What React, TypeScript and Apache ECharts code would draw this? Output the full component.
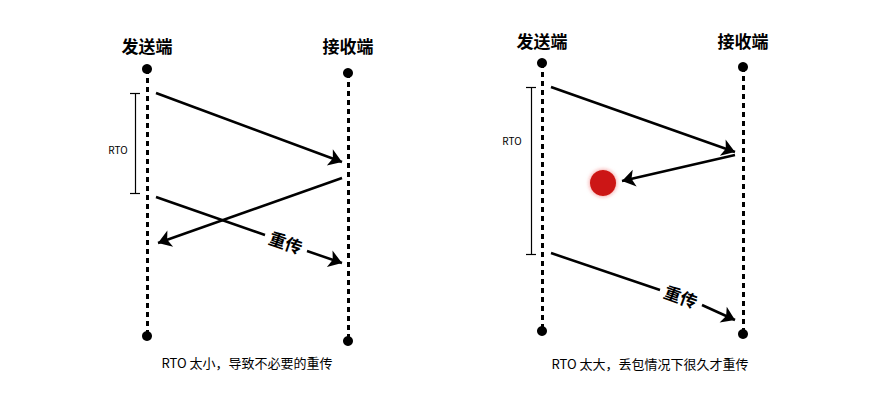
import { useEffect, useRef } from 'react';
import * as echarts from 'echarts';

// coordinates in picture pixels (x right, y down)
const lifelines = [
  { x: 147, top: 69, bottom: 336 },
  { x: 348, top: 73, bottom: 341 },
  { x: 542, top: 63, bottom: 331 },
  { x: 743, top: 67, bottom: 334 },
];

const arrows: [number, number, number, number][] = [
  [156, 93, 342, 162],
  [342, 178, 158, 243],
  [307, 251, 342, 263],
  [551, 87, 735, 152],
  [735, 155, 622, 181],
  [702, 305, 735, 320],
];

const plainSegments: [number, number, number, number][] = [
  [156, 197, 265, 235],
  [551, 253, 660, 290],
];

const brackets = [
  { x: 135, y1: 93, y2: 193 },
  { x: 531, y1: 87, y2: 254 },
];

const titles = [
  { x: 147, y: 45, text: '发送端' },
  { x: 348, y: 45, text: '接收端' },
  { x: 542, y: 40, text: '发送端' },
  { x: 743, y: 40, text: '接收端' },
];

const captions = [
  { x: 247, y: 362, text: 'RTO 太小，导致不必要的重传' },
  { x: 650, y: 363, text: 'RTO 太大，丢包情况下很久才重传' },
];

const rtoLabels = [
  { x: 118, y: 149 },
  { x: 512, y: 140 },
];

const retransLabels = [
  { x: 286, y: 242, rotate: -19 },
  { x: 681, y: 296, rotate: -20 },
];

const lossPoint = [603, 183];

export default function App() {
  const ref = useRef<HTMLDivElement>(null);

  useEffect(() => {
    document.body.style.margin = '0';
    if (!ref.current) return;
    const chart = echarts.init(ref.current, null, { renderer: 'svg' });
    const font = '"Noto Sans CJK SC", sans-serif';

    const textSeries = (
      items: { x: number; y: number; text: string; rotate?: number }[],
      size: number,
      weight: string,
    ) => ({
      type: 'scatter',
      symbolSize: 0,
      silent: true,
      itemStyle: { opacity: 1 },
      data: items.map((t) => ({
        value: [t.x, t.y],
        label: { show: true, formatter: t.text, rotate: t.rotate ?? 0 },
      })),
      label: {
        show: true,
        position: 'inside',
        color: '#000',
        fontSize: size,
        fontWeight: weight,
        fontFamily: font,
      },
    });

    const bracketSegs: [number, number, number, number][] = [];
    brackets.forEach((b) => {
      bracketSegs.push([b.x, b.y1, b.x, b.y2]);
      bracketSegs.push([b.x - 5, b.y1, b.x + 5, b.y1]);
      bracketSegs.push([b.x - 5, b.y2, b.x + 5, b.y2]);
    });

    const toLines = (segs: [number, number, number, number][]) =>
      segs.map((s) => ({ coords: [[s[0], s[1]], [s[2], s[3]]] }));

    chart.setOption({
      animation: false,
      backgroundColor: '#fff',
      grid: { left: 0, right: 0, top: 0, bottom: 0 },
      xAxis: { type: 'value', min: 0, max: 874, show: false },
      yAxis: { type: 'value', min: 0, max: 414, inverse: true, show: false },
      series: [
        {
          type: 'lines',
          coordinateSystem: 'cartesian2d',
          symbol: 'none',
          lineStyle: { color: '#000', width: 3, type: [5, 4], opacity: 1 },
          data: lifelines.map((l) => ({ coords: [[l.x, l.top], [l.x, l.bottom]] })),
        },
        {
          type: 'scatter',
          symbolSize: 10,
          itemStyle: { color: '#000', opacity: 1 },
          data: lifelines.flatMap((l) => [[l.x, l.top], [l.x, l.bottom]]),
        },
        {
          type: 'lines',
          coordinateSystem: 'cartesian2d',
          symbol: ['none', 'arrow'],
          symbolSize: 13,
          lineStyle: { color: '#000', width: 2.5, opacity: 1 },
          data: toLines(arrows),
        },
        {
          type: 'lines',
          coordinateSystem: 'cartesian2d',
          symbol: 'none',
          lineStyle: { color: '#000', width: 2.5, opacity: 1 },
          data: toLines(plainSegments),
        },
        {
          type: 'lines',
          coordinateSystem: 'cartesian2d',
          symbol: 'none',
          lineStyle: { color: '#000', width: 1.2, opacity: 1 },
          data: toLines(bracketSegs),
        },
        {
          type: 'scatter',
          symbolSize: 26,
          itemStyle: { color: '#cc1512', opacity: 1, shadowColor: 'rgba(230,40,40,0.6)', shadowBlur: 4 },
          data: [lossPoint],
        },
        textSeries(titles, 17, 'bold'),
        textSeries(captions, 13, 'normal'),
        textSeries(rtoLabels.map((r) => ({ ...r, text: 'RTO' })), 10, 'normal'),
        textSeries(retransLabels.map((r) => ({ ...r, text: '重传' })), 17, 'bold'),
      ],
    });
    return () => chart.dispose();
  }, []);

  return <div ref={ref} style={{ width: 874, height: 414 }} />;
}
